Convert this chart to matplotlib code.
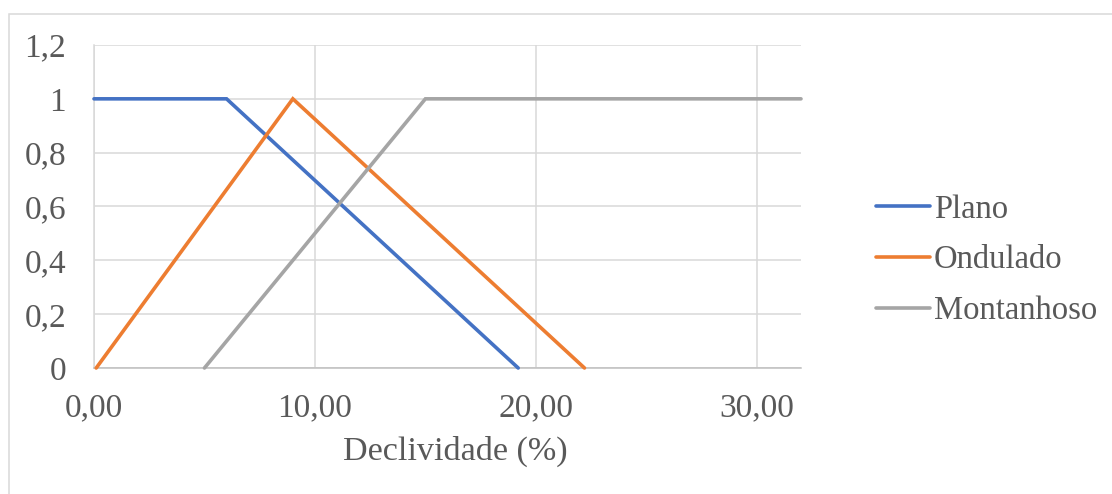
import matplotlib
matplotlib.use("Agg")
import matplotlib.pyplot as plt
from matplotlib.patches import Rectangle

# Membership functions of slope classes
plano_x = [0.0, 6.0, 19.2]
plano_y = [1.0, 1.0, 0.0]
ondulado_x = [0.1, 9.0, 22.2]
ondulado_y = [0.0, 1.0, 0.0]
montanhoso_x = [5.0, 15.0, 32.0]
montanhoso_y = [0.0, 1.0, 1.0]

series_names = ["Plano", "Ondulado", "Montanhoso"]
series_colors = ["#4472C4", "#ED7D31", "#A5A5A5"]

x_ticks = [0, 10, 20, 30]
x_tick_labels = ["0,00", "10,00", "20,00", "30,00"]
y_ticks = [0, 0.2, 0.4, 0.6, 0.8, 1.0, 1.2]
y_tick_labels = ["0", "0,2", "0,4", "0,6", "0,8", "1", "1,2"]
x_label = "Declividade (%)"

plt.rcParams["font.family"] = ["Liberation Serif", "DejaVu Serif"]
text_color = "#595959"
grid_color = "#D9D9D9"
fs = 24

W, H = 1112, 494
fig = plt.figure(figsize=(W / 100, H / 100), dpi=100)
ax = fig.add_axes([94 / W, 1 - 368 / H, (801 - 94) / W, (368 - 45) / H])

xs = [plano_x, ondulado_x, montanhoso_x]
ys = [plano_y, ondulado_y, montanhoso_y]
for x, y, name, c in zip(xs, ys, series_names, series_colors):
    ax.plot(x, y, color=c, lw=2.6, label=name, solid_capstyle="round",
            solid_joinstyle="miter", clip_on=False, zorder=3)

ax.set_xlim(0, 32)
ax.set_ylim(0, 1.2)
ax.set_xticks(x_ticks)
ax.set_xticklabels(x_tick_labels)
ax.set_yticks(y_ticks)
ax.set_yticklabels(y_tick_labels)
ax.tick_params(axis="x", length=0, pad=17.5, labelsize=fs, labelcolor=text_color)
ax.tick_params(axis="y", length=0, pad=20, labelsize=fs, labelcolor=text_color)
ax.grid(True, color=grid_color, lw=1.1)
ax.set_axisbelow(True)
for s in ["top", "right"]:
    ax.spines[s].set_visible(False)
ax.spines["left"].set_color(grid_color)
ax.spines["left"].set_linewidth(1.1)
ax.spines["bottom"].set_color("#BFBFBF")
ax.spines["bottom"].set_linewidth(1.1)

ax.set_xlabel(x_label, fontsize=24.6, color=text_color)
ax.xaxis.set_label_coords((455 - 94) / (801 - 94), -(451 - 368) / (368 - 45))
ax.xaxis.label.set_verticalalignment("center")

leg = fig.legend(loc="center left", bbox_to_anchor=(876 / W, 1 - 260 / H),
                 frameon=False, fontsize=23.5, handlelength=1.65,
                 handletextpad=0.12, labelspacing=0.62, borderpad=0,
                 borderaxespad=0)
for t in leg.get_texts():
    t.set_color(text_color)

# Chart area border
fig.patches.append(Rectangle((8.5 / W, -0.1), 1.2, 1.1 - 14.5 / H,
                             transform=fig.transFigure, fill=False,
                             edgecolor=grid_color, lw=1.1))

fig.savefig("out.png", dpi=100)
